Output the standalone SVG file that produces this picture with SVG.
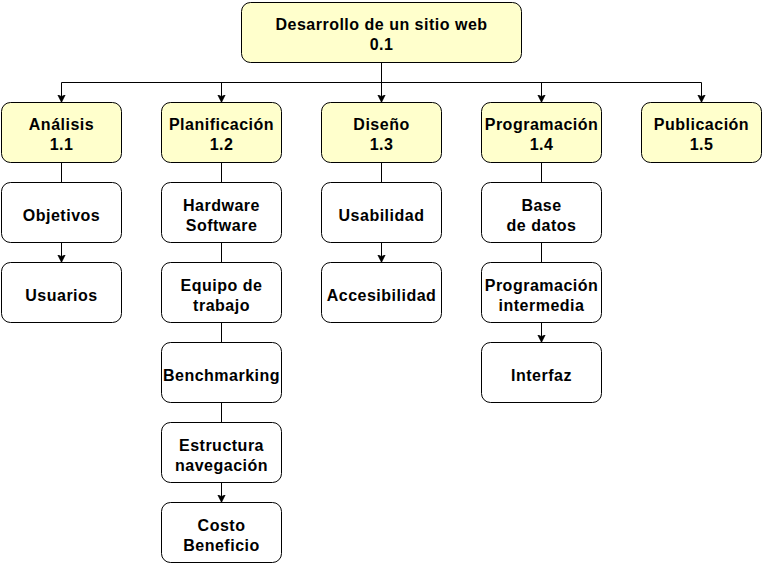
<svg xmlns="http://www.w3.org/2000/svg" width="763" height="564" viewBox="0 0 763 564">
<defs>
<style>
.box{stroke:#000;stroke-width:1;}
.main{fill:#FFFFCC;}
.sub{fill:#FFFFFF;}
.t{font-family:"Liberation Sans",Arial,sans-serif;font-weight:bold;font-size:16px;letter-spacing:0.5px;fill:#000;text-anchor:middle;}
.c{fill:none;stroke:#000;stroke-width:1;}
</style>
<marker id="arr" markerUnits="userSpaceOnUse" markerWidth="10" markerHeight="10" refX="8" refY="4" orient="auto" viewBox="0 0 10 8">
<path d="M0,0 L8,4 L0,8 L2,4 Z" fill="#000" stroke="#000" stroke-width="0.5"/>
</marker>
</defs>
<rect width="763" height="564" fill="#FFFFFF"/>
<g id="connectors">
<path class="c" d="M381.5,62.5 V82.5 H61.5 V102.5" marker-end="url(#arr)"/>
<path class="c" d="M381.5,62.5 V82.5 H221.5 V102.5" marker-end="url(#arr)"/>
<path class="c" d="M381.5,62.5 V102.5" marker-end="url(#arr)"/>
<path class="c" d="M381.5,62.5 V82.5 H541.5 V102.5" marker-end="url(#arr)"/>
<path class="c" d="M381.5,62.5 V82.5 H701.5 V102.5" marker-end="url(#arr)"/>
<path class="c" d="M61.5,162.5 V182.5"/>
<path class="c" d="M61.5,242.5 V262.5" marker-end="url(#arr)"/>
<path class="c" d="M221.5,162.5 V182.5"/>
<path class="c" d="M221.5,242.5 V262.5"/>
<path class="c" d="M221.5,322.5 V342.5"/>
<path class="c" d="M221.5,402.5 V422.5"/>
<path class="c" d="M221.5,482.5 V502.5" marker-end="url(#arr)"/>
<path class="c" d="M381.5,162.5 V182.5"/>
<path class="c" d="M381.5,242.5 V262.5" marker-end="url(#arr)"/>
<path class="c" d="M541.5,162.5 V182.5"/>
<path class="c" d="M541.5,242.5 V262.5"/>
<path class="c" d="M541.5,322.5 V342.5" marker-end="url(#arr)"/>
</g>
<g id="n0"><rect class="box main" x="241.5" y="2.5" width="280" height="60" rx="9"/><text class="t" x="381.5" y="30">Desarrollo de un sitio web</text><text class="t" x="381.5" y="50">0.1</text></g>
<g id="n1"><rect class="box main" x="1.5" y="102.5" width="120" height="60" rx="9"/><text class="t" x="61.5" y="130">Análisis</text><text class="t" x="61.5" y="150">1.1</text></g>
<g id="n2"><rect class="box main" x="161.5" y="102.5" width="120" height="60" rx="9"/><text class="t" x="221.5" y="130">Planificación</text><text class="t" x="221.5" y="150">1.2</text></g>
<g id="n3"><rect class="box main" x="321.5" y="102.5" width="120" height="60" rx="9"/><text class="t" x="381.5" y="130">Diseño</text><text class="t" x="381.5" y="150">1.3</text></g>
<g id="n4"><rect class="box main" x="481.5" y="102.5" width="120" height="60" rx="9"/><text class="t" x="541.5" y="130">Programación</text><text class="t" x="541.5" y="150">1.4</text></g>
<g id="n5"><rect class="box main" x="641.5" y="102.5" width="120" height="60" rx="9"/><text class="t" x="701.5" y="130">Publicación</text><text class="t" x="701.5" y="150">1.5</text></g>
<g id="n11"><rect class="box sub" x="1.5" y="182.5" width="120" height="60" rx="9"/><text class="t" x="61.5" y="221">Objetivos</text></g>
<g id="n12"><rect class="box sub" x="1.5" y="262.5" width="120" height="60" rx="9"/><text class="t" x="61.5" y="301">Usuarios</text></g>
<g id="n21"><rect class="box sub" x="161.5" y="182.5" width="120" height="60" rx="9"/><text class="t" x="221.5" y="211">Hardware</text><text class="t" x="221.5" y="231">Software</text></g>
<g id="n22"><rect class="box sub" x="161.5" y="262.5" width="120" height="60" rx="9"/><text class="t" x="221.5" y="291">Equipo de</text><text class="t" x="221.5" y="311">trabajo</text></g>
<g id="n23"><rect class="box sub" x="161.5" y="342.5" width="120" height="60" rx="9"/><text class="t" x="221.5" y="381">Benchmarking</text></g>
<g id="n24"><rect class="box sub" x="161.5" y="422.5" width="120" height="60" rx="9"/><text class="t" x="221.5" y="451">Estructura</text><text class="t" x="221.5" y="471">navegación</text></g>
<g id="n25"><rect class="box sub" x="161.5" y="502.5" width="120" height="60" rx="9"/><text class="t" x="221.5" y="531">Costo</text><text class="t" x="221.5" y="551">Beneficio</text></g>
<g id="n31"><rect class="box sub" x="321.5" y="182.5" width="120" height="60" rx="9"/><text class="t" x="381.5" y="221">Usabilidad</text></g>
<g id="n32"><rect class="box sub" x="321.5" y="262.5" width="120" height="60" rx="9"/><text class="t" x="381.5" y="301">Accesibilidad</text></g>
<g id="n41"><rect class="box sub" x="481.5" y="182.5" width="120" height="60" rx="9"/><text class="t" x="541.5" y="211">Base</text><text class="t" x="541.5" y="231">de datos</text></g>
<g id="n42"><rect class="box sub" x="481.5" y="262.5" width="120" height="60" rx="9"/><text class="t" x="541.5" y="291">Programación</text><text class="t" x="541.5" y="311">intermedia</text></g>
<g id="n43"><rect class="box sub" x="481.5" y="342.5" width="120" height="60" rx="9"/><text class="t" x="541.5" y="381">Interfaz</text></g>
</svg>
